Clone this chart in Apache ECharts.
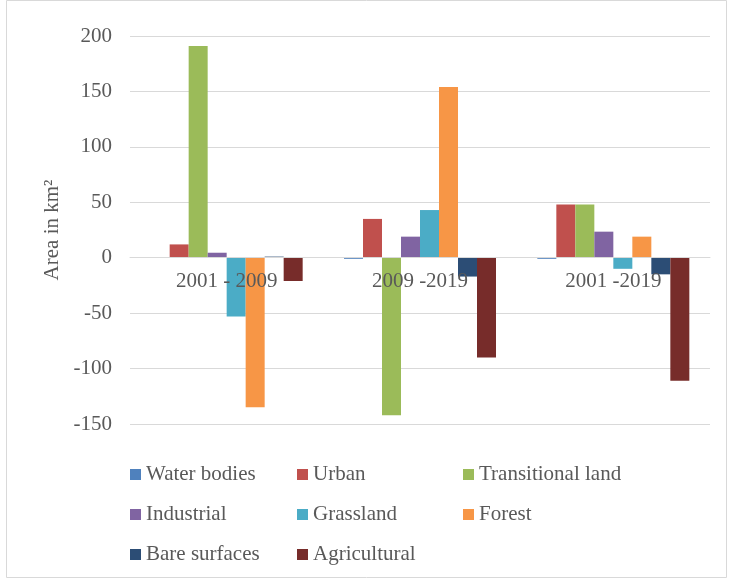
<!DOCTYPE html>
<html>
<head>
<meta charset="utf-8">
<script src="https://cdn.jsdelivr.net/npm/echarts@6/dist/echarts.min.js"></script>
<style>
	html, body { margin: 0; padding: 0; background: #fff; }
	#main { width: 729px; height: 579px; }
</style>
</head>
<body>
<div id="main"></div>
<script>
// 기간 (x축)
let periods = ['2001 - 2009', '2009 -2019', '2001 -2019'];
// 토지 유형
let landTypes = ['Water bodies', 'Urban', 'Transitional land', 'Industrial', 'Grassland', 'Forest', 'Bare surfaces', 'Agricultural'];
let typeColors = ['#4f81bd', '#c0504d', '#9bbb59', '#8064a2', '#4bacc6', '#f79646', '#2c4d75', '#772c2a'];
// 유형별 면적 변화 (km2), 기간 순서대로
let waterBodies = [0, -1, -1];
let urban = [12, 35, 48];
let transitional = [191, -142, 48];
let industrial = [4.5, 19, 23.5];
let grassland = [-53, 43, -10];
let forest = [-135, 154, 19];
let bareSurfaces = [1, -17, -15];
let agricultural = [-21, -90, -111];
let yTicks = [-150, -100, -50, 0, 50, 100, 150, 200];

let seriesData = [waterBodies, urban, transitional, industrial, grassland, forest, bareSurfaces, agricultural];

let txtColor = '#595959';
let fontName = '"Liberation Serif", "Times New Roman", serif';
let fs = 21;

// 그리드 위치 (0선 위치 계산용)
let gridTop = 36;
let gridBottom = 155;
let plotH = 579 - gridTop - gridBottom;
let zeroOffset = -plotH * (0 - yTicks[0]) / (yTicks[yTicks.length - 1] - yTicks[0]);

let series = [];
for (let i = 0; i < landTypes.length; i++) {
	series.push({
		name: landTypes[i],
		type: 'bar',
		data: seriesData[i],
		barWidth: 19,
		barGap: '0%',
		itemStyle: { color: typeColors[i] }
	});
}

// 범례: 열 단위로 나눠서 배치
function legendCol(left, names) {
	return {
		left: left,
		top: 464,
		orient: 'vertical',
		icon: 'rect',
		itemWidth: 11,
		itemHeight: 11,
		itemGap: 19,
		padding: 0,
		data: names,
		textStyle: { color: txtColor, fontFamily: fontName, fontSize: fs, lineHeight: 21 }
	};
}

var myChart = echarts.init(document.getElementById('main'));
var option = {
	animation: false,
	textStyle: { fontFamily: fontName },
	graphic: [{
		type: 'rect',
		shape: { x: 6.5, y: 0.5, width: 720, height: 577 },
		style: { fill: 'none', stroke: '#d9d9d9', lineWidth: 1 }
	}],
	grid: { left: 130, right: 19, top: gridTop, bottom: gridBottom },
	legend: [
		legendCol(130, ['Water bodies', 'Industrial', 'Bare surfaces']),
		legendCol(297, ['Urban', 'Grassland', 'Agricultural']),
		legendCol(463, ['Transitional land', 'Forest'])
	],
	xAxis: {
		type: 'category',
		data: periods,
		offset: zeroOffset,
		z: 5,
		axisLine: { onZero: false, lineStyle: { color: '#d9d9d9' } },
		axisTick: { show: false },
		axisLabel: { color: txtColor, fontSize: fs, fontFamily: fontName, margin: 13 }
	},
	yAxis: {
		type: 'value',
		min: yTicks[0],
		max: yTicks[yTicks.length - 1],
		interval: 50,
		name: 'Area in km²',
		nameLocation: 'middle',
		nameGap: 63,
		nameTextStyle: { color: txtColor, fontSize: fs, fontFamily: fontName },
		axisLine: { show: false },
		axisTick: { show: false },
		axisLabel: { color: txtColor, fontSize: fs, fontFamily: fontName, margin: 18 },
		splitLine: { lineStyle: { color: '#d9d9d9' } }
	},
	series: series
};
myChart.setOption(option);
</script>
</body>
</html>
